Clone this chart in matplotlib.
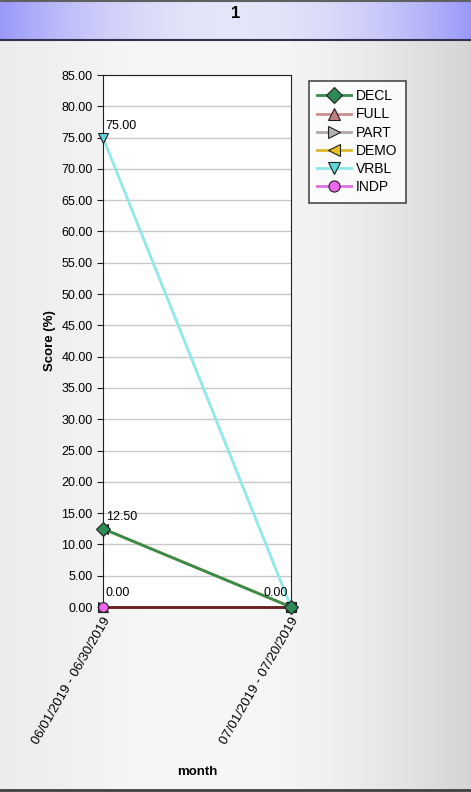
import numpy as np
import matplotlib.pyplot as plt
from matplotlib.lines import Line2D

plt.rcParams['font.family'] = ['Liberation Sans', 'DejaVu Sans']

categories = ["06/01/2019 - 06/30/2019", "07/01/2019 - 07/20/2019"]
series_names = ["DECL", "FULL", "PART", "DEMO", "VRBL", "INDP"]
decl = [12.5, 0.0]
full = [0.0, 0.0]
part = [0.0, 0.0]
demo = [12.5, 0.0]
vrbl = [75.0, 0.0]
indp = [0.0, 0.0]
yticks = np.arange(0, 85.01, 5)
title = "1"

colors = {"DECL": "#3a8a50", "FULL": "#c89090", "PART": "#b0a8a8",
          "DEMO": "#d8b830", "VRBL": "#90e8e8", "INDP": "#e070e0"}
markers = {"DECL": "D", "FULL": "^", "PART": ">", "DEMO": "<", "VRBL": "v", "INDP": "o"}
facecol = {"DECL": "#2e8b57", "FULL": "#c08080", "PART": "#b0b0b0",
           "DEMO": "#e8c020", "VRBL": "#60d8d8", "INDP": "#ee66ee"}

fig = plt.figure(figsize=(4.71, 7.92), dpi=100)

# background gradient
bg = fig.add_axes([0, 0, 1, 1], zorder=-10)
bg.set_axis_off()
xs = np.linspace(0, 1, 400)
g = 0.965 - 0.13 * np.clip((xs - 0.55) / 0.45, 0, 1) ** 1.5 - 0.04 * np.clip((0.3 - xs) / 0.3, 0, 1)
img = np.tile(g, (10, 1))
bg.imshow(np.dstack([img, img, img]), extent=[0, 1, 0, 1], aspect="auto", transform=bg.transAxes)
# header band
hx = np.abs(xs - 0.5) * 2
r = 0.90 - 0.30 * hx ** 2
gg = 0.90 - 0.30 * hx ** 2
b = np.full_like(xs, 0.98)
band = np.dstack([np.tile(r, (10, 1)), np.tile(gg, (10, 1)), np.tile(b, (10, 1))])
bg.imshow(band, extent=[0, 1, 1 - 40 / 792, 1 - 2 / 792], aspect="auto")
bg.set_xlim(0, 1)
bg.set_ylim(0, 1)
bg.axhline(1 - 40 / 792, color="#303050", lw=1.5)
bg.axhline(1 - 1 / 792, color="#606060", lw=1.5)
bg.axhline(2 / 792, color="#404040", lw=2)
fig.text(0.5, 1 - 14 / 792, title, ha="center", va="center", fontsize=12, fontweight="bold")

ax = fig.add_axes([103 / 471, 1 - 607 / 792, (291 - 103) / 471, (607 - 75) / 792])
ax.set_facecolor("white")
x = np.arange(len(categories))
data = {"DECL": decl, "FULL": full, "PART": part, "DEMO": demo, "VRBL": vrbl, "INDP": indp}
order = ["FULL", "PART", "DEMO", "INDP", "VRBL", "DECL"]
for name in order:
    vals = data[name]
    lc = colors[name]
    if name in ("FULL", "INDP"):
        lc = "#6a2020"
    ax.plot(x, vals, color=lc, lw=2, marker=markers[name], markersize=7,
            markerfacecolor=facecol[name], markeredgecolor="#202020", markeredgewidth=0.8,
            clip_on=False, zorder=3)

ax.set_xlim(0, 1)
ax.set_ylim(0, 85)
ax.set_yticks(yticks)
ax.set_yticklabels([f"{v:.2f}" for v in yticks], fontsize=9)
ax.set_xticks(x)
ax.set_xticklabels(categories, rotation=60, ha="right", rotation_mode="anchor", fontsize=9.5)
ax.grid(axis="y", color="#c8c8c8", lw=1)
ax.set_axisbelow(True)
for s in ax.spines.values():
    s.set_color("#202020")
ax.tick_params(axis="y", length=4, color="#202020")
ax.tick_params(axis="x", length=0, pad=6)
ax.set_ylabel("Score (%)", fontsize=9.5, fontweight="bold", labelpad=4)
ax.set_xlabel("month", fontsize=9.5, fontweight="bold", labelpad=14)

# point labels
ax.annotate(f"{vrbl[0]:.2f}", (x[0], vrbl[0]), xytext=(2, 4), textcoords="offset points", fontsize=9, va="bottom")
ax.annotate(f"{decl[0]:.2f}", (x[0], decl[0]), xytext=(2, 4), textcoords="offset points", fontsize=9, va="bottom")
ax.annotate(f"{decl[1]:.2f}", (x[0], 0), xytext=(2, 6), textcoords="offset points", fontsize=9, va="bottom")
ax.annotate(f"{decl[1]:.2f}", (x[1], 0), xytext=(-2, 6), textcoords="offset points", fontsize=9, va="bottom", ha="right")

handles = [Line2D([0], [0], color=colors[n], lw=2, marker=markers[n], markersize=8,
                  markerfacecolor=facecol[n], markeredgecolor="#202020", markeredgewidth=0.8)
           for n in series_names]
leg = fig.legend(handles, series_names, loc="upper left", bbox_to_anchor=(309 / 471, 1 - 81 / 792),
                 fontsize=10, frameon=True, fancybox=False, edgecolor="#202020",
                 handlelength=2.4, handletextpad=0.4, labelspacing=0.3, borderpad=0.6,
                 borderaxespad=0)
leg.get_frame().set_linewidth(1.2)
leg.get_frame().set_facecolor("white")

fig.savefig("out.png", dpi=100)
